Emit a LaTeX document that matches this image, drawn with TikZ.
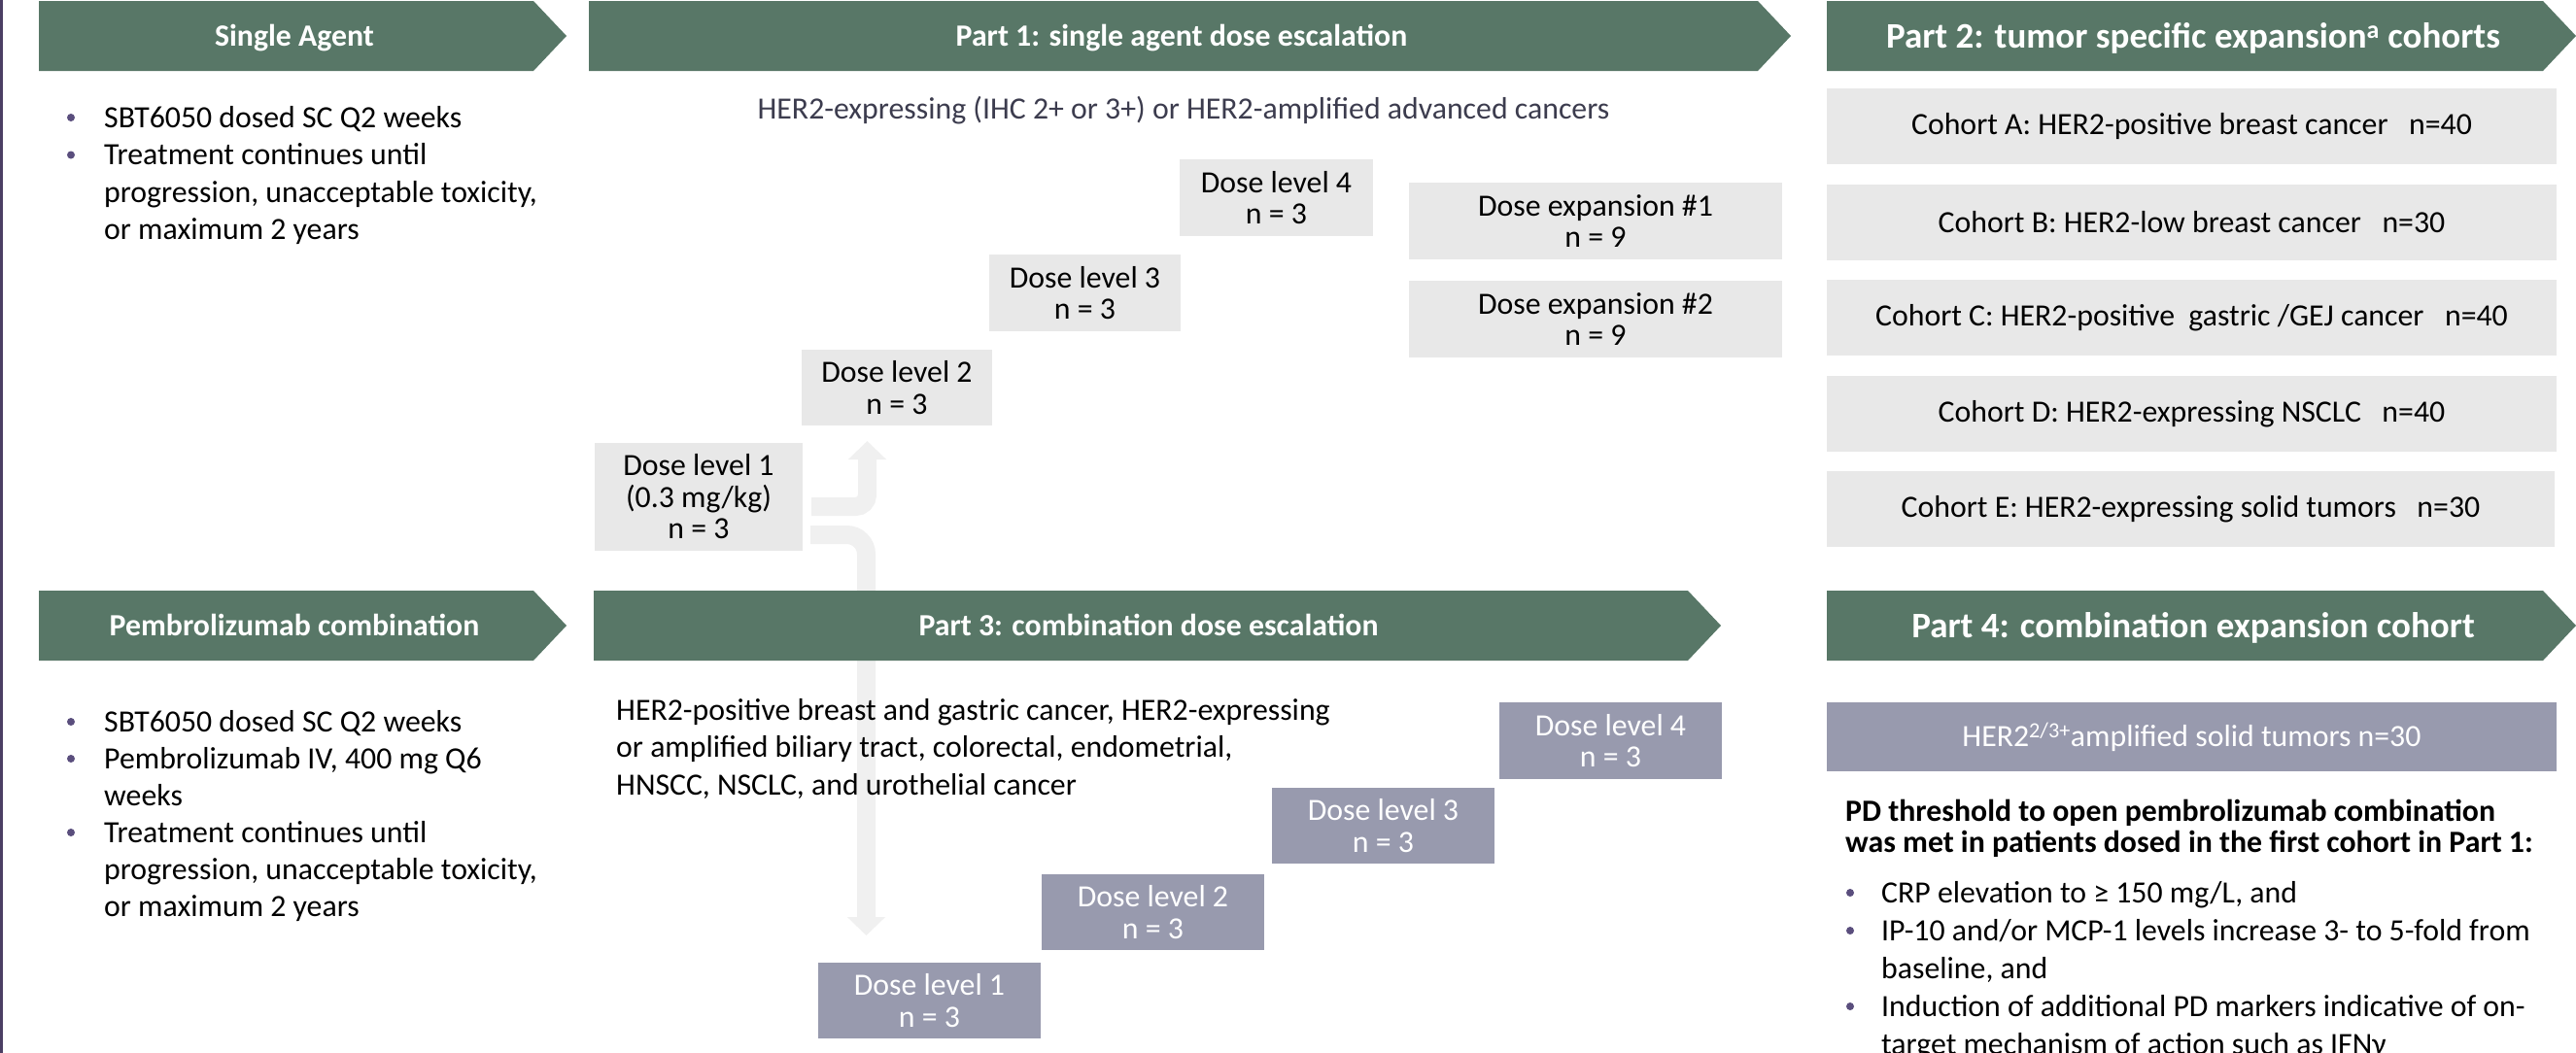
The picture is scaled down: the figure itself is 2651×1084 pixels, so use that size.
\documentclass[tikz,border=0pt]{standalone}
\usepackage{fontspec}
\setmainfont{Carlito}
\usetikzlibrary{arrows.meta,backgrounds,calc}
\definecolor{chevcol}{RGB}{88,119,103}
\definecolor{lightbox}{RGB}{232,232,232}
\definecolor{arrowcol}{RGB}{240,240,240}
\definecolor{purplebox}{RGB}{152,154,174}
\definecolor{leftline}{RGB}{75,63,100}
\definecolor{bulletcol}{RGB}{90,78,125}
\definecolor{desccol}{RGB}{60,60,78}
\newcommand{\fr}{\fontsize{31.8}{32.5}\selectfont}
\newcommand{\fb}{\fontsize{31.8}{32.5}\selectfont\bfseries}
\newcommand{\fbig}{\fontsize{37}{40}\selectfont\bfseries}
\newcommand{\mychev}[4]{\fill[chevcol] (#1,#3) -- ({#2-34},#3) -- (#2,{(#3+#4)/2}) -- ({#2-34},#4) -- (#1,#4) -- cycle;}
\begin{document}
\begin{tikzpicture}[x=1pt,y=-1pt,
  ttl/.style={anchor=base, text=white, font=\fb, inner sep=0},
  bigttl/.style={anchor=base, text=white, font=\fbig, inner sep=0},
  lbox/.style={fill=lightbox, inner sep=0, align=center, font=\fr, text=black},
  pbox/.style={fill=purplebox, inner sep=0, align=center, font=\fr, text=white},
  txt/.style={anchor=base west, inner sep=0, font=\fr, text=black},
  btxt/.style={anchor=base west, inner sep=0, font=\fb, text=black},
  bul/.style={circle, fill=bulletcol, inner sep=0, minimum size=8},
  band/.style={draw=arrowcol, line width=19pt, -{Triangle[width=38pt,length=19pt]}}]
\useasboundingbox (0,0) rectangle (2651,1084);
\fill[leftline] (0,0) rectangle (3,1084);

% chevrons
\mychev{40}{583}{1}{73}
\mychev{606}{1843}{1}{73}
\mychev{1880}{2651}{1}{73}
\mychev{40}{583}{608}{680}
\mychev{611}{1771}{608}{680}
\mychev{1880}{2651}{608}{680}

\node[ttl] (tsingle) at (303,47.5) {Single Agent};
\node[ttl] (tpart1) at (1216,47.5) {Part 1: single agent dose escalation};
\node[bigttl] (tpart2) at (2257,49) {Part 2: tumor specific expansion\textsuperscript{a} cohorts};
\node[ttl] (tpembro) at (303,654.5) {Pembrolizumab combination};
\node[ttl] (tpart3) at (1182,654.5) {Part 3: combination dose escalation};
\node[bigttl] (tpart4) at (2257,656) {Part 4: combination expansion cohort};

% Single agent bullets
\node[bul] (sb1) at (73,121) {};
\node[txt] (sl1) at (107,131) {SBT6050 dosed SC Q2 weeks};
\node[bul] (sb2) at (73,159.5) {};
\node[txt] (sl2) at (107,169.5) {Treatment continues until};
\node[txt] (sl3) at (107,208) {progression, unacceptable toxicity,};
\node[txt] (sl4) at (107,246.5) {or maximum 2 years};

% Pembrolizumab bullets
\node[bul] (pb1) at (73,743) {};
\node[txt] (pl1) at (107,753) {SBT6050 dosed SC Q2 weeks};
\node[bul] (pb2) at (73,781) {};
\node[txt] (pl2) at (107,791) {Pembrolizumab IV, 400 mg Q6};
\node[txt] (pl3) at (107,829) {weeks};
\node[bul] (pb3) at (73,857) {};
\node[txt] (pl4) at (107,867) {Treatment continues until};
\node[txt] (pl5) at (107,905) {progression, unacceptable toxicity,};
\node[txt] (pl6) at (107,943) {or maximum 2 years};

% Part 1
\node[anchor=base, inner sep=0, font=\fr, text=desccol] (p1desc) at (1218,122) {HER2-expressing (IHC 2+ or 3+) or HER2-amplified advanced cancers};
\node[lbox, minimum width=214, minimum height=111] (p1d1) at (719,511.5) {Dose level 1\\(0.3 mg/kg)\\n = 3};
\node[lbox, minimum width=196, minimum height=78] (p1d2) at (923,399) {Dose level 2\\n = 3};
\node[lbox, minimum width=197, minimum height=79] (p1d3) at (1116.5,301.5) {Dose level 3\\n = 3};
\node[lbox, minimum width=199, minimum height=79] (p1d4) at (1313.5,203.5) {Dose level 4\\n = 3};
\node[lbox, minimum width=384, minimum height=79] (exp1) at (1642,227.5) {Dose expansion \#1\\n = 9};
\node[lbox, minimum width=384, minimum height=79] (exp2) at (1642,328.5) {Dose expansion \#2\\n = 9};

% Part 2
\node[lbox, minimum width=751, minimum height=78] (ca) at (2255.5,130) {Cohort A: HER2-positive breast cancer \ \ n=40};
\node[lbox, minimum width=751, minimum height=78] (cb) at (2255.5,229) {Cohort B: HER2-low breast cancer \ \ n=30};
\node[lbox, minimum width=751, minimum height=78] (cc) at (2255.5,327) {Cohort C: HER2-positive \ gastric /GEJ cancer \ \ n=40};
\node[lbox, minimum width=751, minimum height=78] (cd) at (2255.5,426) {Cohort D: HER2-expressing NSCLC \ \ n=40};
\node[lbox, minimum width=749, minimum height=78] (ce) at (2254.5,524) {Cohort E: HER2-expressing solid tumors \ \ n=30};

% Part 3
\node[txt] (p3l1) at (634,741) {HER2-positive breast and gastric cancer, HER2-expressing};
\node[txt] (p3l2) at (634,779.5) {or amplified biliary tract, colorectal, endometrial,};
\node[txt] (p3l3) at (634,818) {HNSCC, NSCLC, and urothelial cancer};
\node[pbox, minimum width=229, minimum height=78] (p3d1) at (956.5,1030) {Dose level 1\\n = 3};
\node[pbox, minimum width=229, minimum height=78] (p3d2) at (1186.5,939) {Dose level 2\\n = 3};
\node[pbox, minimum width=229, minimum height=78] (p3d3) at (1423.5,850) {Dose level 3\\n = 3};
\node[pbox, minimum width=229, minimum height=79] (p3d4) at (1657.5,762.5) {Dose level 4\\n = 3};

% Part 4
\node[pbox, minimum width=751, minimum height=71] (p4box) at (2255.5,758.5) {HER2\textsuperscript{2/3+}amplified solid tumors n=30};
\node[btxt] (pd1) at (1899,845) {PD threshold to open pembrolizumab combination};
\node[btxt] (pd2) at (1899,877) {was met in patients dosed in the first cohort in Part 1:};
\node[bul] (qb1) at (1904,919) {};
\node[txt] (ql1) at (1936,929) {CRP elevation to ≥ 150 mg/L, and};
\node[bul] (qb2) at (1904,958) {};
\node[txt] (ql2) at (1936,968) {IP-10 and/or MCP-1 levels increase 3- to 5-fold from};
\node[txt] (ql3) at (1936,1007) {baseline, and};
\node[bul] (qb3) at (1904,1036) {};
\node[txt] (ql4) at (1936,1046) {Induction of additional PD markers indicative of on-};
\node[txt] (ql5) at (1936,1085) {target mechanism of action such as IFNγ};

% arrows behind
\coordinate (upend) at (892.5,454);
\coordinate (downend) at (891.5,963);
\begin{scope}[on background layer]
\fill[white] (0,0) rectangle (2651,1084);
\draw[band, rounded corners=12pt] ($(p1d1.east)+(9,10)$) -- (892.5,521.5) -- (upend);
\draw[band, rounded corners=20pt] ($(p1d1.east)+(8,39)$) -- (891.5,550.5) -- (downend);
\end{scope}
\end{tikzpicture}
\end{document}
